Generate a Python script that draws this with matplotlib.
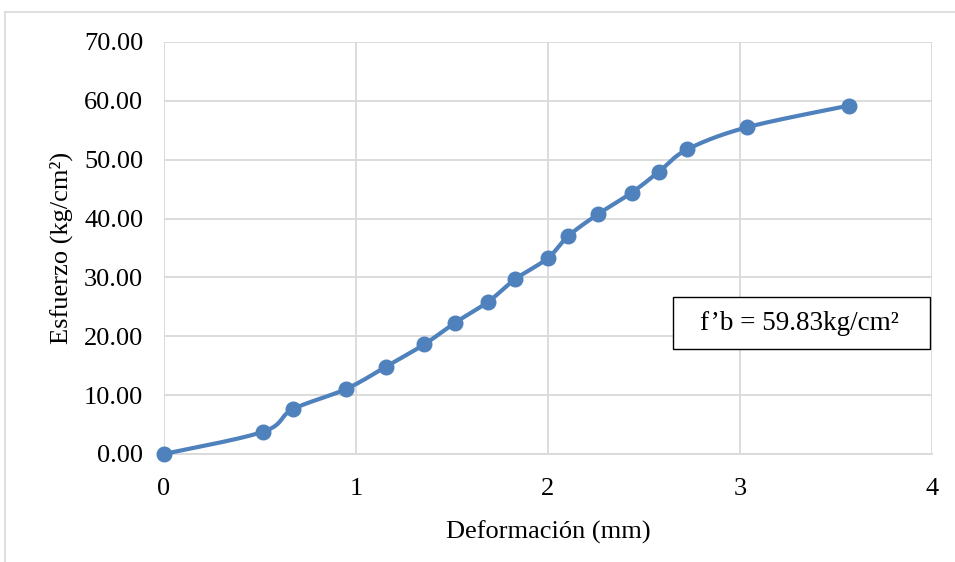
import numpy as np
import matplotlib
matplotlib.use("Agg")
import matplotlib.pyplot as plt
from matplotlib.lines import Line2D
from matplotlib.patches import Rectangle

# Stress-strain data
deformacion_mm = [0.0, 0.517, 0.670, 0.948, 1.156, 1.356, 1.516, 1.689, 1.828, 1.998,
                  2.106, 2.259, 2.436, 2.578, 2.726, 3.035, 3.568]
esfuerzo_kg_cm2 = [0.0, 3.79, 7.59, 11.04, 14.83, 18.64, 22.31, 25.88, 29.68, 33.25,
                   37.04, 40.72, 44.40, 47.97, 51.76, 55.50, 59.20]
x_ticks = [0, 1, 2, 3, 4]
y_ticks = [0, 10, 20, 30, 40, 50, 60, 70]
resistencia_label = "f\u2019b = 59.83kg/cm\u00b2"

BLUE = "#4F81BD"
GRID = "#D9D9D9"


def smooth_curve(x, y, n=30):
    """Cardinal (Catmull-Rom style) Bezier smoothing through every point."""
    x = np.asarray(x, float)
    y = np.asarray(y, float)
    px = np.concatenate([[x[0]], x, [x[-1]]])
    py = np.concatenate([[y[0]], y, [y[-1]]])
    out_x, out_y = [], []
    t = np.linspace(0, 1, n)
    for i in range(1, len(px) - 2):
        p0 = np.array([px[i], py[i]])
        p3 = np.array([px[i + 1], py[i + 1]])
        c1 = p0 + (np.array([px[i + 1], py[i + 1]]) - np.array([px[i - 1], py[i - 1]])) / 6
        c2 = p3 - (np.array([px[i + 2], py[i + 2]]) - np.array([px[i], py[i]])) / 6
        b = ((1 - t) ** 3)[:, None] * p0 + (3 * (1 - t) ** 2 * t)[:, None] * c1 \
            + (3 * (1 - t) * t ** 2)[:, None] * c2 + (t ** 3)[:, None] * p3
        out_x.extend(b[:, 0])
        out_y.extend(b[:, 1])
    return np.array(out_x), np.array(out_y)


plt.rcParams["font.family"] = ["Liberation Serif", "DejaVu Serif"]

fig = plt.figure(figsize=(9.55, 5.62), dpi=100)
W, H = 955, 562
ax = fig.add_axes([164 / W, (H - 454) / H, 768 / W, 412 / H])

# outer chart frame
fig.add_artist(Line2D([5 / W, 1], [1 - 12 / H, 1 - 12 / H], transform=fig.transFigure,
                      color=GRID, lw=1.2))
fig.add_artist(Line2D([5 / W, 5 / W], [0, 1 - 12 / H], transform=fig.transFigure,
                      color=GRID, lw=1.2))

sx, sy = smooth_curve(deformacion_mm, esfuerzo_kg_cm2)
ax.plot(sx, sy, color=BLUE, lw=3.0, solid_capstyle="round", zorder=3, clip_on=False)
ax.plot(deformacion_mm, esfuerzo_kg_cm2, "o", color=BLUE, ms=10.5, zorder=4, clip_on=False)

ax.set_xlim(0, 4)
ax.set_ylim(0, 70)
ax.set_xticks(x_ticks)
ax.set_yticks(y_ticks)
ax.set_yticklabels([f"{v:.2f}" for v in y_ticks])
ax.grid(True, color=GRID, lw=1.3)
ax.set_axisbelow(True)
for side in ["top", "right", "left"]:
    ax.spines[side].set_visible(False)
ax.spines["bottom"].set_color(GRID)
ax.spines["bottom"].set_linewidth(1.3)
ax.tick_params(length=0, labelsize=19)
ax.tick_params(axis="y", pad=15)
ax.tick_params(axis="x", pad=17)

ax.set_xlabel("Deformación (mm)", fontsize=19, labelpad=15)
ax.set_ylabel("Esfuerzo (kg/cm²)", fontsize=19, labelpad=8)

# annotation box with the compressive strength
box_ax = [(673 - 164) / 768, (454 - 349) / 412, (930 - 673) / 768, (349 - 297) / 412]
ax.add_patch(Rectangle((box_ax[0], box_ax[1]), box_ax[2], box_ax[3], transform=ax.transAxes,
                       fc="white", ec="black", lw=1.0, zorder=5))
ax.text(box_ax[0] + box_ax[2] / 2 - 0.003, box_ax[1] + box_ax[3] / 2, resistencia_label,
        transform=ax.transAxes, fontsize=19.5, ha="center", va="center", zorder=6)

fig.savefig("out.png", dpi=100)
